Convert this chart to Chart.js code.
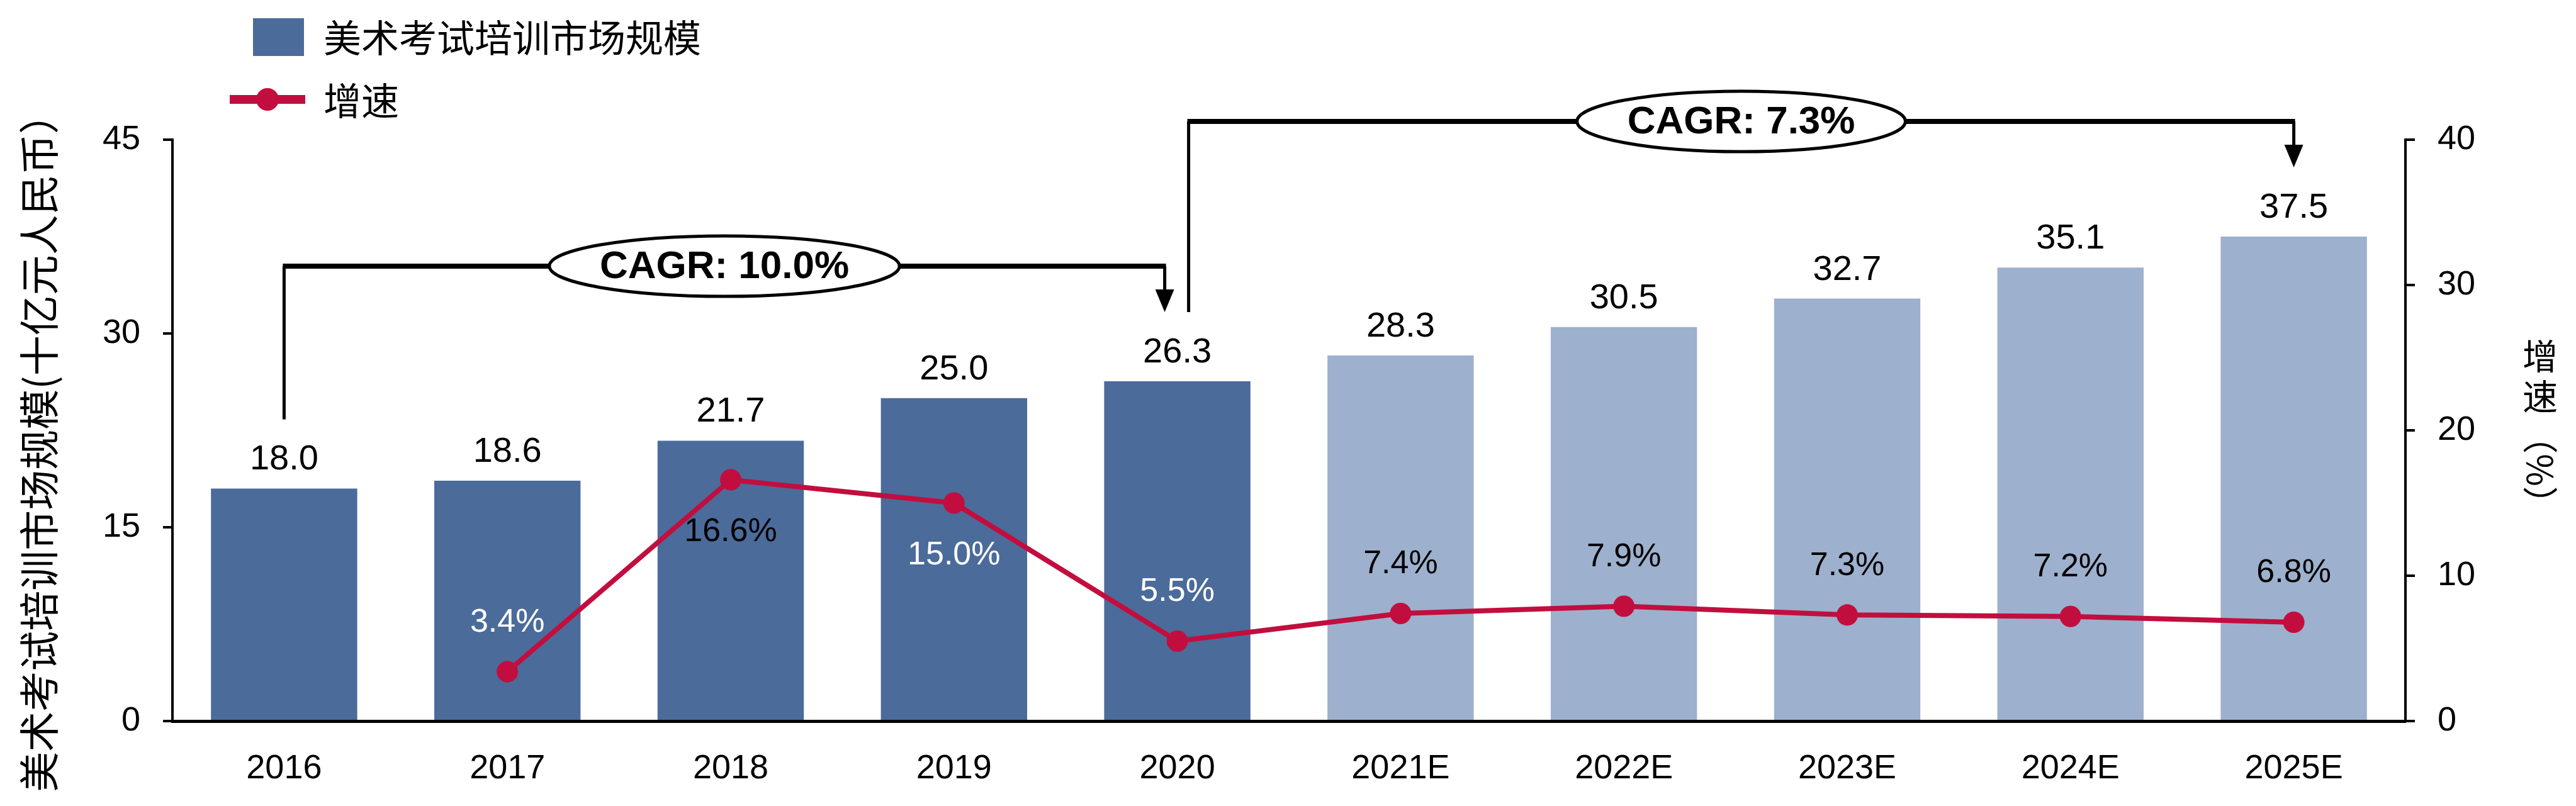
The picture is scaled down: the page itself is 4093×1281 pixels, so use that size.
<!DOCTYPE html>
<html>
<head>
<meta charset="utf-8">
<script src="https://cdn.jsdelivr.net/npm/chart.js@4"></script>
<style>
  html, body { margin: 0; padding: 0; background: #fff; }
  #wrap { width: 4093px; height: 1281px; }
</style>
</head>
<body>
<div id="wrap"><canvas id="chart" width="4093" height="1281"></canvas></div>
<script>
// chart data
const years = ['2016', '2017', '2018', '2019', '2020', '2021E', '2022E', '2023E', '2024E', '2025E'];
const marketSize = [18.0, 18.6, 21.7, 25.0, 26.3, 28.3, 30.5, 32.7, 35.1, 37.5];
const growthRate = [null, 3.4, 16.6, 15.0, 5.5, 7.4, 7.9, 7.3, 7.2, 6.8];
const firstForecast = 5;

const cagrLabels = ['CAGR: 10.0%', 'CAGR: 7.3%'];
const cagrFrom = [0, 4];
const cagrTo = [4, 9];

const sizeLabel = '美术考试培训市场规模';
const growthLabel = '增速';
const leftTitle = '美术考试培训市场规模(十亿元人民币）';

const darkBlue = '#4B6B9A';
const lightBlue = '#9DB0CD';
const red = '#C20E3E';
const latin = '"Liberation Sans", Arial, sans-serif';
const cjk = '"Noto Sans CJK SC", sans-serif';

// draws labels, brackets, legend and titles
const extras = {
    id: 'extras',
    afterDatasetsDraw(chart) {
        const ctx = chart.ctx;
        const x = chart.scales.x;
        const yL = chart.scales.y;
        const yR = chart.scales.y1;
        ctx.save();

        // bar values
        ctx.font = '56px ' + latin;
        ctx.fillStyle = '#000';
        ctx.textAlign = 'center';
        ctx.textBaseline = 'alphabetic';
        marketSize.forEach((v, i) => {
            ctx.fillText(v.toFixed(1), x.getPixelForValue(i), yL.getPixelForValue(v) - 30);
        });

        // growth values
        ctx.font = '52px ' + latin;
        ctx.textBaseline = 'middle';
        growthRate.forEach((v, i) => {
            if (v === null) return;
            const px = x.getPixelForValue(i);
            const py = yR.getPixelForValue(v);
            const below = v > 10;
            let color = '#000';
            if (i < firstForecast && !(v > 16)) color = '#fff';
            ctx.fillStyle = color;
            ctx.fillText(v.toFixed(1) + '%', px, below ? py + 83 : py - 78);
        });

        // CAGR brackets
        const last = years.length - 1;
        cagrLabels.forEach((label, k) => {
            const a = cagrFrom[k], b = cagrTo[k];
            const x0 = x.getPixelForValue(a) + (a > 0 ? 18 : 0);
            const x1 = x.getPixelForValue(b) - (b < last ? 20 : 0);
            let hi = Infinity;
            for (let i = a; i <= b; i++) hi = Math.min(hi, yL.getPixelForValue(marketSize[i]));
            const yTop = hi - 183;
            const yStart = yL.getPixelForValue(marketSize[a]) - 110;
            const yEnd = yL.getPixelForValue(marketSize[b]) - 110;

            ctx.strokeStyle = '#000';
            ctx.fillStyle = '#000';
            ctx.lineCap = 'butt';
            ctx.lineWidth = 5;
            ctx.beginPath();
            ctx.moveTo(x0, yStart);
            ctx.lineTo(x0, yTop);
            ctx.moveTo(x1, yTop);
            ctx.lineTo(x1, yEnd - 34);
            ctx.stroke();
            ctx.lineWidth = 8;
            ctx.beginPath();
            ctx.moveTo(x0 - 2, yTop);
            ctx.lineTo(x1 + 2, yTop);
            ctx.stroke();
            // arrow head
            ctx.beginPath();
            ctx.moveTo(x1 - 15, yEnd - 36);
            ctx.lineTo(x1 + 15, yEnd - 36);
            ctx.lineTo(x1, yEnd);
            ctx.closePath();
            ctx.fill();

            ctx.font = 'bold 62px ' + latin;
            const tw = ctx.measureText(label).width;
            const cx = (x0 + x1) / 2;
            ctx.beginPath();
            ctx.ellipse(cx, yTop, tw / 2 + 80, 48, 0, 0, Math.PI * 2);
            ctx.fillStyle = '#fff';
            ctx.fill();
            ctx.lineWidth = 5;
            ctx.stroke();
            ctx.fillStyle = '#000';
            ctx.textBaseline = 'middle';
            ctx.fillText(label, cx, yTop + 2);
        });

        // legend
        ctx.fillStyle = darkBlue;
        ctx.fillRect(402, 29, 81, 60);
        ctx.strokeStyle = red;
        ctx.lineWidth = 14;
        ctx.beginPath();
        ctx.moveTo(365, 158);
        ctx.lineTo(485, 158);
        ctx.stroke();
        ctx.fillStyle = red;
        ctx.beginPath();
        ctx.arc(425, 158, 18, 0, Math.PI * 2);
        ctx.fill();
        ctx.fillStyle = '#000';
        ctx.font = '60px ' + cjk;
        ctx.textAlign = 'left';
        ctx.textBaseline = 'middle';
        ctx.fillText(sizeLabel, 514, 60);
        ctx.fillText(growthLabel, 514, 160);

        // left axis title
        ctx.save();
        ctx.translate(62, 704);
        ctx.rotate(-Math.PI / 2);
        ctx.textAlign = 'center';
        ctx.font = '64px ' + cjk;
        ctx.fillText(leftTitle, 0, 0);
        ctx.restore();

        // right axis title, stacked
        ctx.textAlign = 'center';
        ctx.font = '56px ' + cjk;
        ctx.fillText('增', 4036, 566);
        ctx.fillText('速', 4036, 630);
        ctx.save();
        ctx.translate(4036, 747);
        ctx.rotate(Math.PI / 2);
        ctx.fillText('（%）', 0, 0);
        ctx.restore();

        ctx.restore();
    }
};

new Chart(document.getElementById('chart'), {
    type: 'bar',
    data: {
        labels: years,
        datasets: [{
            type: 'line',
            label: growthLabel,
            data: growthRate,
            yAxisID: 'y1',
            borderColor: red,
            backgroundColor: red,
            borderWidth: 8,
            pointRadius: 17,
            pointHoverRadius: 17,
            pointBackgroundColor: red,
            pointBorderWidth: 0,
            tension: 0,
            order: 0
        }, {
            type: 'bar',
            label: sizeLabel,
            data: marketSize,
            yAxisID: 'y',
            backgroundColor: marketSize.map((v, i) => i < firstForecast ? darkBlue : lightBlue),
            barPercentage: 0.655,
            categoryPercentage: 1,
            order: 1
        }]
    },
    options: {
        responsive: false,
        devicePixelRatio: 1,
        animation: false,
        layout: { padding: { top: 222, left: 0, right: 0, bottom: 0 } },
        plugins: {
            legend: { display: false },
            tooltip: { enabled: false }
        },
        scales: {
            x: {
                grid: { display: false },
                border: { color: '#000', width: 5 },
                ticks: { color: '#000', font: { family: latin, size: 54 }, padding: 36 },
                afterFit(scale) { scale.height = 135; }
            },
            y: {
                position: 'left',
                min: 0,
                max: 45,
                ticks: { stepSize: 15, color: '#000', font: { family: latin, size: 54 }, padding: 36 },
                grid: { drawOnChartArea: false, tickLength: 15, color: '#000', lineWidth: 4 },
                border: { color: '#000', width: 4 },
                afterFit(scale) { scale.width = 274; }
            },
            y1: {
                position: 'right',
                min: 0,
                max: 40,
                ticks: { stepSize: 10, color: '#000', font: { family: latin, size: 54 }, padding: 36 },
                grid: { drawOnChartArea: false, tickLength: 15, color: '#000', lineWidth: 4 },
                border: { color: '#000', width: 4 },
                afterFit(scale) { scale.width = 271; }
            }
        }
    },
    plugins: [extras]
});
</script>
</body>
</html>
